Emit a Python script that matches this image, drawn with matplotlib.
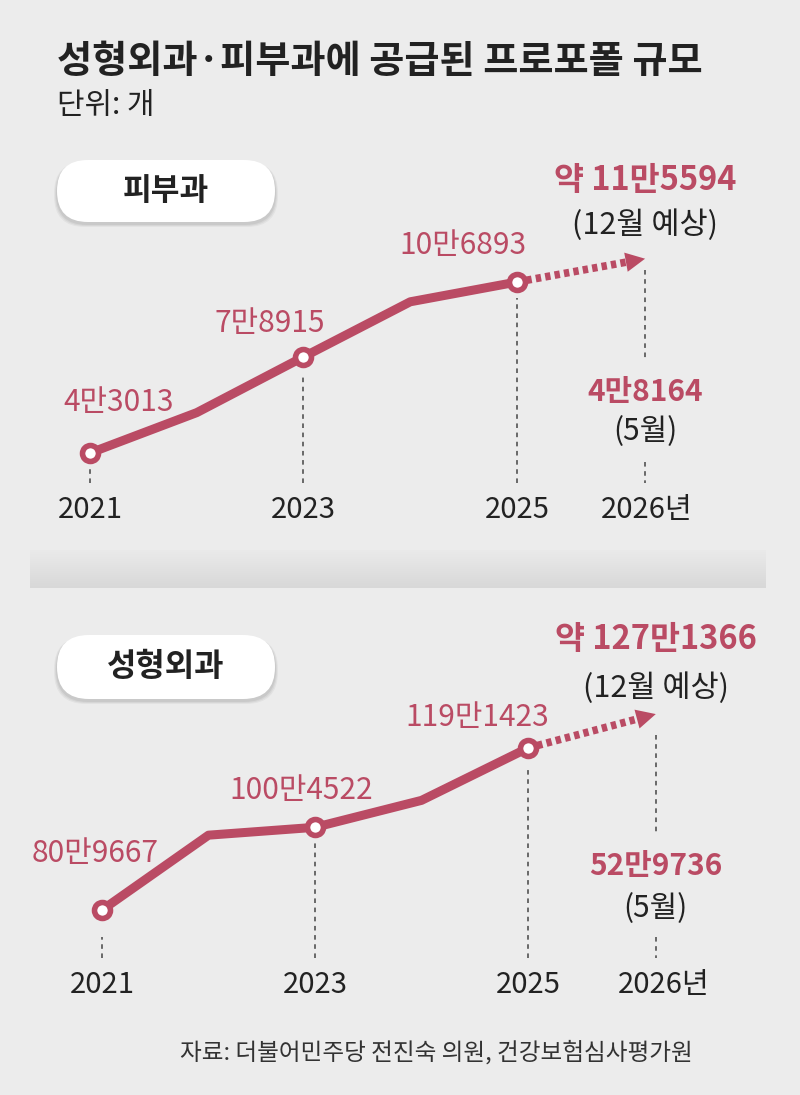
import numpy as np
import matplotlib.pyplot as plt
from matplotlib.patches import FancyBboxPatch
from matplotlib.colors import LinearSegmentedColormap

plt.rcParams['font.family'] = ['Noto Sans CJK KR', 'DejaVu Sans']

# ---- data ----
TITLE = '성형외과·피부과에 공급된 프로포폴 규모'
UNIT = '단위: 개'
SOURCE = '자료: 더불어민주당 전진숙 의원, 건강보험심사평가원'

years = [2021, 2022, 2023, 2024, 2025]
labeled_years = [2021, 2023, 2025]
year_labels = ['2021', '2023', '2025', '2026년']

derm_name = '피부과'
derm = [43013, 58100, 78915, 99500, 106893]      # 2022, 2024
derm_2026_dec = 115594
derm_2026_may = 48164

plastic_name = '성형외과'
plastic = [809667, 986000, 1004522, 1068000, 1191423]
plastic_2026_dec = 1271366
plastic_2026_may = 529736

RED = '#BA4B64'
DARK = '#222222'
BG = '#ECECEC'
W, H = 800, 1095
X26 = 2026.2  # 2026 column sits a bit wider than one year step


def man(v):
    return f'{v // 10000}만{v % 10000:04d}'


fig = plt.figure(figsize=(W / 100, H / 100), dpi=100, facecolor=BG)

# background layer in pixel coords
bg = fig.add_axes([0, 0, 1, 1])
bg.axis('off')

bg.text(57, 61, TITLE, fontsize=27.5, fontweight='bold', color=DARK, ha='left', va='center')
bg.text(57, 106, UNIT, fontsize=21.5, color=DARK, ha='left', va='center')
bg.text(693, 1052, SOURCE, fontsize=17, color='#333333', ha='right', va='center')

# separator band between panels
grad = np.linspace(0, 1, 60).reshape(-1, 1)
cmap = LinearSegmentedColormap.from_list('band', ['#EAEAEA', '#D8D8D8'])
bg.imshow(grad, extent=(30, 766, 588, 550), cmap=cmap, aspect='auto', zorder=1)


def pill(cx, cy, w, h, label, size):
    for k, a in [(6, 0.04), (4, 0.05), (2, 0.06)]:
        bg.add_patch(FancyBboxPatch((cx - w / 2 - k / 2, cy - h / 2 + 2), w + k, h + k / 2,
                                    boxstyle=f'round,pad=0,rounding_size={h / 2}',
                                    fc='black', ec='none', alpha=a, zorder=2))
    bg.add_patch(FancyBboxPatch((cx - w / 2, cy - h / 2), w, h,
                                boxstyle=f'round,pad=0,rounding_size={h / 2}',
                                fc='white', ec='none', zorder=3))
    bg.text(cx, cy, label, fontsize=size, fontweight='bold', color=DARK,
            ha='center', va='center', zorder=4)


pill(166, 191, 218, 62, derm_name, 22.5)
pill(166, 667, 218, 64, plastic_name, 23)

bg.set_xlim(0, W)
bg.set_ylim(H, 0)


def panel(vals, dec, may, lay):
    x0px, y0px, x1px, y1px = lay['anchors']
    top_px, base_px = lay['top'], lay['base']
    ax = fig.add_axes([0, 1 - base_px / H, 1, (base_px - top_px) / H])
    ax.patch.set_alpha(0)
    ax.axis('off')
    ppy = (x1px - x0px) / (years[-1] - years[0])
    vpp = (vals[-1] - vals[0]) / (y0px - y1px)
    ax.set_xlim(years[0] - x0px / ppy, years[0] + (W - x0px) / ppy)
    ybot = vals[0] - (base_px - y0px) * vpp
    ax.set_ylim(ybot, vals[0] + (y0px - top_px) * vpp)

    def pv(px):
        return vals[0] + (y0px - px) * vpp

    # main line and markers
    ax.plot(years, vals, color=RED, lw=6.5, solid_joinstyle='round',
            solid_capstyle='round', zorder=3)
    mvals = [vals[years.index(y)] for y in labeled_years]
    ax.plot(labeled_years, mvals, 'o', ms=11.5, mfc='white', mec=RED, mew=4, zorder=5)

    # dotted projection arrow
    v25 = vals[-1]
    f = 0.86
    ax.plot([years[-1], years[-1] + f * (X26 - years[-1])], [v25, v25 + f * (dec - v25)],
            color=RED, lw=5.5, linestyle=(0, (0.7, 0.55)), zorder=4)
    ax.annotate('', xy=(X26, dec), xytext=(years[-1], v25),
                arrowprops=dict(arrowstyle='-|>,head_length=1.4,head_width=0.7',
                                color=RED, lw=0, shrinkA=0, shrinkB=0), zorder=4)

    # guide lines
    dash = dict(color='#444444', lw=1.1, linestyle=(0, (3, 3)), zorder=2)
    for y, v, gap in zip(labeled_years, mvals, lay['gaps']):
        ax.plot([y, y], [ybot, v - gap * vpp], **dash)
    for a, b in lay['seg26']:
        ax.plot([X26, X26], [pv(a), pv(b)], **dash)

    # value labels
    for y, v, (dx, dy) in zip(labeled_years, mvals, lay['offs']):
        ax.annotate(man(v), xy=(y, v), xytext=(dx, dy), textcoords='offset pixels',
                    ha='center', va='center', fontsize=21.5, color=RED)
    py = lay['lab26']
    ax.text(X26, pv(py[0]), '약 ' + man(dec), fontsize=23.5, fontweight='bold',
            color=RED, ha='center', va='center')
    ax.text(X26, pv(py[1]), '(12월 예상)', fontsize=22, color=DARK, ha='center', va='center')
    ax.text(X26, pv(py[2]), man(may), fontsize=21.5, fontweight='bold',
            color=RED, ha='center', va='center')
    ax.text(X26, pv(py[3]), '(5월)', fontsize=21.5, color=DARK, ha='center', va='center')

    # year labels
    xs = labeled_years + [X26]
    for i, (x, s) in enumerate(zip(xs, year_labels)):
        dx = lay['yr26dx'] if i == len(xs) - 1 else 0
        ax.annotate(s, xy=(x, ybot), xytext=(dx, -27), textcoords='offset pixels',
                    ha='center', va='center', fontsize=21, color=DARK)
    return ax


panel(derm, derm_2026_dec, derm_2026_may, dict(
    anchors=(90, 453, 517, 282), top=130, base=483,
    gaps=(15, 19, 16), seg26=[(270, 360), (462, 483)],
    offs=[(29, 51), (-34, 33), (-54, 37)],
    lab26=(180, 225, 392, 432), yr26dx=2))

panel(plastic, plastic_2026_dec, plastic_2026_may, dict(
    anchors=(102, 910, 528, 748), top=600, base=958,
    gaps=(27, 16, 22), seg26=[(735, 833), (937, 958)],
    offs=[(-7, 57), (-14, 37), (-51, 30)],
    lab26=(640, 688, 866, 909), yr26dx=8))

fig.savefig('out.png', dpi=100, facecolor=BG)
